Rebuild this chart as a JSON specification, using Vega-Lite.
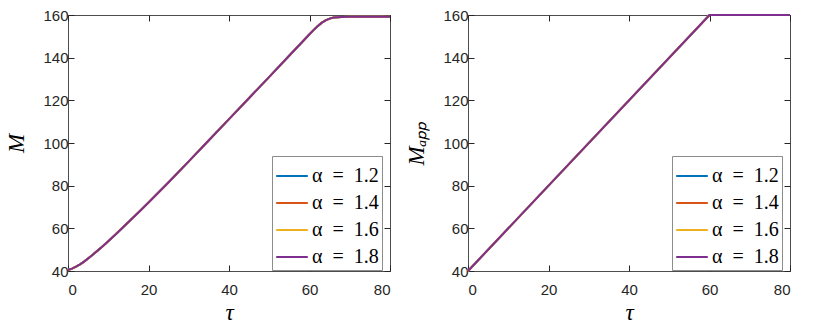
{
  "$schema": "https://vega.github.io/schema/vega-lite/v6.json",
  "background": "white",
  "padding": {"left": 5, "top": 7, "right": 5, "bottom": 5},
  "datasets": {
    "m": [
      {"alpha":"1.2","tau":0,"M":40.5},{"alpha":"1.2","tau":1,"M":41.1},{"alpha":"1.2","tau":2,"M":42.0},{"alpha":"1.2","tau":3,"M":43.1},{"alpha":"1.2","tau":4,"M":44.4},{"alpha":"1.2","tau":6,"M":47.4},{"alpha":"1.2","tau":8,"M":50.6},{"alpha":"1.2","tau":10,"M":54.0},{"alpha":"1.2","tau":12,"M":57.5},{"alpha":"1.2","tau":14,"M":61.1},{"alpha":"1.2","tau":16,"M":64.7},{"alpha":"1.2","tau":18,"M":68.4},{"alpha":"1.2","tau":20,"M":72.1},{"alpha":"1.2","tau":25,"M":81.6},{"alpha":"1.2","tau":30,"M":91.4},{"alpha":"1.2","tau":35,"M":101.3},{"alpha":"1.2","tau":40,"M":111.2},{"alpha":"1.2","tau":45,"M":121.1},{"alpha":"1.2","tau":50,"M":131.0},{"alpha":"1.2","tau":55,"M":141.0},{"alpha":"1.2","tau":58,"M":147.0},{"alpha":"1.2","tau":60,"M":151.0},{"alpha":"1.2","tau":61,"M":152.9},{"alpha":"1.2","tau":62,"M":154.7},{"alpha":"1.2","tau":63,"M":156.3},{"alpha":"1.2","tau":64,"M":157.5},{"alpha":"1.2","tau":65,"M":158.3},{"alpha":"1.2","tau":66,"M":158.8},{"alpha":"1.2","tau":67,"M":159.0},{"alpha":"1.2","tau":68,"M":159.1},{"alpha":"1.2","tau":70,"M":159.2},{"alpha":"1.2","tau":80,"M":159.2},
      {"alpha":"1.4","tau":0,"M":40.5},{"alpha":"1.4","tau":1,"M":41.1},{"alpha":"1.4","tau":2,"M":42.0},{"alpha":"1.4","tau":3,"M":43.1},{"alpha":"1.4","tau":4,"M":44.4},{"alpha":"1.4","tau":6,"M":47.4},{"alpha":"1.4","tau":8,"M":50.6},{"alpha":"1.4","tau":10,"M":54.0},{"alpha":"1.4","tau":12,"M":57.5},{"alpha":"1.4","tau":14,"M":61.1},{"alpha":"1.4","tau":16,"M":64.7},{"alpha":"1.4","tau":18,"M":68.4},{"alpha":"1.4","tau":20,"M":72.1},{"alpha":"1.4","tau":25,"M":81.6},{"alpha":"1.4","tau":30,"M":91.4},{"alpha":"1.4","tau":35,"M":101.3},{"alpha":"1.4","tau":40,"M":111.2},{"alpha":"1.4","tau":45,"M":121.1},{"alpha":"1.4","tau":50,"M":131.0},{"alpha":"1.4","tau":55,"M":141.0},{"alpha":"1.4","tau":58,"M":147.0},{"alpha":"1.4","tau":60,"M":151.0},{"alpha":"1.4","tau":61,"M":152.9},{"alpha":"1.4","tau":62,"M":154.7},{"alpha":"1.4","tau":63,"M":156.3},{"alpha":"1.4","tau":64,"M":157.5},{"alpha":"1.4","tau":65,"M":158.3},{"alpha":"1.4","tau":66,"M":158.8},{"alpha":"1.4","tau":67,"M":159.0},{"alpha":"1.4","tau":68,"M":159.1},{"alpha":"1.4","tau":70,"M":159.2},{"alpha":"1.4","tau":80,"M":159.2},
      {"alpha":"1.6","tau":0,"M":40.5},{"alpha":"1.6","tau":1,"M":41.1},{"alpha":"1.6","tau":2,"M":42.0},{"alpha":"1.6","tau":3,"M":43.1},{"alpha":"1.6","tau":4,"M":44.4},{"alpha":"1.6","tau":6,"M":47.4},{"alpha":"1.6","tau":8,"M":50.6},{"alpha":"1.6","tau":10,"M":54.0},{"alpha":"1.6","tau":12,"M":57.5},{"alpha":"1.6","tau":14,"M":61.1},{"alpha":"1.6","tau":16,"M":64.7},{"alpha":"1.6","tau":18,"M":68.4},{"alpha":"1.6","tau":20,"M":72.1},{"alpha":"1.6","tau":25,"M":81.6},{"alpha":"1.6","tau":30,"M":91.4},{"alpha":"1.6","tau":35,"M":101.3},{"alpha":"1.6","tau":40,"M":111.2},{"alpha":"1.6","tau":45,"M":121.1},{"alpha":"1.6","tau":50,"M":131.0},{"alpha":"1.6","tau":55,"M":141.0},{"alpha":"1.6","tau":58,"M":147.0},{"alpha":"1.6","tau":60,"M":151.0},{"alpha":"1.6","tau":61,"M":152.9},{"alpha":"1.6","tau":62,"M":154.7},{"alpha":"1.6","tau":63,"M":156.3},{"alpha":"1.6","tau":64,"M":157.5},{"alpha":"1.6","tau":65,"M":158.3},{"alpha":"1.6","tau":66,"M":158.8},{"alpha":"1.6","tau":67,"M":159.0},{"alpha":"1.6","tau":68,"M":159.1},{"alpha":"1.6","tau":70,"M":159.2},{"alpha":"1.6","tau":80,"M":159.2},
      {"alpha":"1.8","tau":0,"M":40.5},{"alpha":"1.8","tau":1,"M":41.1},{"alpha":"1.8","tau":2,"M":42.0},{"alpha":"1.8","tau":3,"M":43.1},{"alpha":"1.8","tau":4,"M":44.4},{"alpha":"1.8","tau":6,"M":47.4},{"alpha":"1.8","tau":8,"M":50.6},{"alpha":"1.8","tau":10,"M":54.0},{"alpha":"1.8","tau":12,"M":57.5},{"alpha":"1.8","tau":14,"M":61.1},{"alpha":"1.8","tau":16,"M":64.7},{"alpha":"1.8","tau":18,"M":68.4},{"alpha":"1.8","tau":20,"M":72.1},{"alpha":"1.8","tau":25,"M":81.6},{"alpha":"1.8","tau":30,"M":91.4},{"alpha":"1.8","tau":35,"M":101.3},{"alpha":"1.8","tau":40,"M":111.2},{"alpha":"1.8","tau":45,"M":121.1},{"alpha":"1.8","tau":50,"M":131.0},{"alpha":"1.8","tau":55,"M":141.0},{"alpha":"1.8","tau":58,"M":147.0},{"alpha":"1.8","tau":60,"M":151.0},{"alpha":"1.8","tau":61,"M":152.9},{"alpha":"1.8","tau":62,"M":154.7},{"alpha":"1.8","tau":63,"M":156.3},{"alpha":"1.8","tau":64,"M":157.5},{"alpha":"1.8","tau":65,"M":158.3},{"alpha":"1.8","tau":66,"M":158.8},{"alpha":"1.8","tau":67,"M":159.0},{"alpha":"1.8","tau":68,"M":159.1},{"alpha":"1.8","tau":70,"M":159.2},{"alpha":"1.8","tau":80,"M":159.2}
    ],
    "mapp": [
      {"alpha":"1.2","tau":0,"M":40},{"alpha":"1.2","tau":60,"M":160},{"alpha":"1.2","tau":80,"M":160},
      {"alpha":"1.4","tau":0,"M":40},{"alpha":"1.4","tau":60,"M":160},{"alpha":"1.4","tau":80,"M":160},
      {"alpha":"1.6","tau":0,"M":40},{"alpha":"1.6","tau":60,"M":160},{"alpha":"1.6","tau":80,"M":160},
      {"alpha":"1.8","tau":0,"M":40},{"alpha":"1.8","tau":60,"M":160},{"alpha":"1.8","tau":80,"M":160}
    ]
  },
  "config": {
    "view": {"stroke": "#4d4d4d", "strokeWidth": 1},
    "axis": {
      "domain": false,
      "grid": false,
      "ticks": true,
      "tickColor": "#262626",
      "tickWidth": 1,
      "tickSize": -6,
      "labelFont": "Liberation Sans",
      "labelFontSize": 15,
      "labelColor": "#262626",
      "titleFont": "Liberation Serif",
      "titleFontStyle": "italic",
      "titleFontWeight": "normal",
      "titleFontSize": 23,
      "titleColor": "#000000"
    },
    "legend": {
      "orient": "none",
      "title": null,
      "symbolType": "stroke",
      "symbolSize": 1000,
      "symbolStrokeWidth": 2,
      "symbolOffset": 0,
      "labelFont": "Liberation Serif",
      "labelFontSize": 20,
      "labelColor": "#000000",
      "labelLimit": 0,
      "labelOffset": 3,
      "strokeColor": "#8c8c8c",
      "fillColor": "white",
      "padding": 3,
      "rowPadding": -3
    }
  },
  "spacing": 10,
  "resolve": {"scale": {"color": "independent"}, "legend": {"color": "independent"}},
  "hconcat": [
    {
      "width": 322,
      "height": 256,
      "data": {"name": "m"},
      "resolve": {"axis": {"x": "independent", "y": "independent"}},
      "layer": [
        {
          "mark": {"type": "line", "strokeWidth": 2},
          "encoding": {
            "x": {"field": "tau", "type": "quantitative", "scale": {"domain": [0, 80], "nice": false}, "axis": {"values": [0, 20, 40, 60, 80], "title": "τ", "labelPadding": 17, "titlePadding": 4}},
            "y": {"field": "M", "type": "quantitative", "scale": {"domain": [40, 160], "nice": false, "zero": false}, "axis": {"values": [40, 60, 80, 100, 120, 140, 160], "title": "M", "labelPadding": 6, "titlePadding": 14}},
            "color": {"field": "alpha", "type": "nominal", "scale": {"domain": ["1.2", "1.4", "1.6", "1.8"], "range": ["#0072BD", "#D95319", "#EDB120", "#7E2F8E"]}, "legend": {"legendX": 204, "legendY": 141, "labelExpr": "'α\u2002=\u2002' + datum.label"}}
          }
        },
        {
          "mark": {"type": "line", "strokeOpacity": 0},
          "encoding": {
            "x": {"field": "tau", "type": "quantitative", "axis": {"orient": "top", "values": [0, 20, 40, 60, 80], "labels": false, "title": null}},
            "y": {"field": "M", "type": "quantitative", "axis": {"orient": "right", "values": [40, 60, 80, 100, 120, 140, 160], "labels": false, "title": null}},
            "detail": {"field": "alpha"}
          }
        }
      ]
    },
    {
      "width": 322,
      "height": 256,
      "data": {"name": "mapp"},
      "resolve": {"axis": {"x": "independent", "y": "independent"}},
      "layer": [
        {
          "mark": {"type": "line", "strokeWidth": 2},
          "encoding": {
            "x": {"field": "tau", "type": "quantitative", "scale": {"domain": [0, 80], "nice": false}, "axis": {"values": [0, 20, 40, 60, 80], "title": "τ", "labelPadding": 17, "titlePadding": 4}},
            "y": {"field": "M", "type": "quantitative", "scale": {"domain": [40, 160], "nice": false, "zero": false}, "axis": {"values": [40, 60, 80, 100, 120, 140, 160], "title": "Mₐₚₚ", "labelPadding": 6, "titlePadding": 14}},
            "color": {"field": "alpha", "type": "nominal", "scale": {"domain": ["1.2", "1.4", "1.6", "1.8"], "range": ["#0072BD", "#D95319", "#EDB120", "#7E2F8E"]}, "legend": {"legendX": 204, "legendY": 141, "labelExpr": "'α\u2002=\u2002' + datum.label"}}
          }
        },
        {
          "mark": {"type": "line", "strokeOpacity": 0},
          "encoding": {
            "x": {"field": "tau", "type": "quantitative", "axis": {"orient": "top", "values": [0, 20, 40, 60, 80], "labels": false, "title": null}},
            "y": {"field": "M", "type": "quantitative", "axis": {"orient": "right", "values": [40, 60, 80, 100, 120, 140, 160], "labels": false, "title": null}},
            "detail": {"field": "alpha"}
          }
        }
      ]
    }
  ]
}
